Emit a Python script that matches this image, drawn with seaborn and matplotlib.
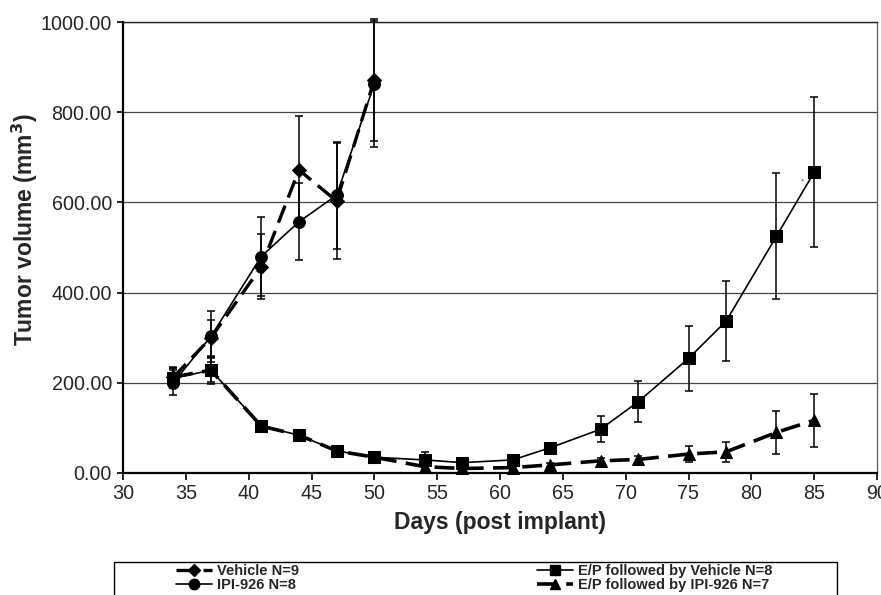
import matplotlib
matplotlib.use("Agg")
import matplotlib.pyplot as plt
from matplotlib.lines import Line2D
from matplotlib.patches import Rectangle
import seaborn as sns
import pandas as pd

# ---- data ----
days_short = [34, 37, 41, 44, 47, 50]
days_long = [34, 37, 41, 44, 47, 50, 54, 57, 61, 64, 68, 71, 75, 78, 82, 85]

vehicle_mean = [212, 300, 457, 672, 603, 872]
vehicle_err = [22, 40, 72, 120, 128, 135]
ipi_mean = [200, 303, 480, 557, 616, 863]
ipi_err = [28, 56, 88, 85, 119, 140]
epv_mean = [210, 228, 104, 84, 49, 35, 29, 23, 29, 56, 97, 158, 254, 337, 525, 667]
epv_err = [22, 26, 10, 8, 6, 6, 17, 6, 6, 10, 29, 45, 72, 89, 140, 166]
epi_mean = [213, 228, 104, 84, 49, 35, 14, 10, 12, 18, 27, 30, 42, 47, 90, 117]
epi_err = [20, 30, 10, 8, 6, 6, 6, 5, 5, 5, 6, 8, 18, 22, 47, 59]

labels = ["Vehicle N=9", "IPI-926 N=8", "E/P followed by Vehicle N=8", "E/P followed by IPI-926 N=7"]
x_ticks = [30, 35, 40, 45, 50, 55, 60, 65, 70, 75, 80, 85, 90]
y_ticks = [0, 200, 400, 600, 800, 1000]

sns.set_style("white")
plt.rcParams["font.family"] = ["Liberation Sans", "DejaVu Sans"]

fig = plt.figure(figsize=(8.81, 5.95), dpi=100)
ax = fig.add_axes([123 / 881, 1 - 473 / 595, 754 / 881, 451 / 595])

series = [
    (days_short, vehicle_mean, vehicle_err, "D", (0, (5.5, 2.6)), 2.4, 7.5),
    (days_short, ipi_mean, ipi_err, "o", "-", 1.2, 8.5),
    (days_long, epv_mean, epv_err, "s", "-", 1.2, 8.5),
    (days_long, epi_mean, epi_err, "^", (0, (5.5, 2.6)), 2.6, 8.5),
]

handles = []
for (xs, ms, es, mk, ls, lw, msz), lab in zip(series, labels):
    ax.errorbar(xs, ms, yerr=es, fmt="none", ecolor="black", elinewidth=1.1,
                capsize=3.2, capthick=1.1, clip_on=False, zorder=2)
    df = pd.DataFrame({"day": xs, "vol": ms})
    sns.lineplot(data=df, x="day", y="vol", ax=ax, color="black", marker=mk,
                 markersize=msz, markeredgecolor="black", linestyle=ls, lw=lw,
                 legend=False, sort=False, zorder=3, clip_on=False)
    handles.append(Line2D([], [], color="black", marker=mk, markersize=msz - 1,
                          linestyle=ls, lw=lw))

ax.text(84.1, 645, "*", fontsize=6, color="#555555", ha="center", va="center")

ax.set_xlim(30, 90)
ax.set_ylim(0, 1000)
ax.set_xticks(x_ticks)
ax.set_yticks(y_ticks)
ax.set_yticklabels([f"{v:.2f}" for v in y_ticks])
ax.tick_params(axis="both", which="major", labelsize=14.2, direction="out",
               length=5, width=1.2, color="black", bottom=True, left=True)
ax.tick_params(axis="x", pad=3)
ax.tick_params(axis="y", pad=4, length=4)

ax.yaxis.grid(True, color="#444444", lw=0.9)
ax.xaxis.grid(False)
ax.set_axisbelow(True)
for side in ["left", "bottom"]:
    ax.spines[side].set_color("black")
    ax.spines[side].set_linewidth(1.6)
ax.spines["top"].set_color("#222222")
ax.spines["top"].set_linewidth(1.0)
ax.spines["right"].set_color("#666666")
ax.spines["right"].set_linewidth(1.0)

ax.set_xlabel("Days (post implant)", fontsize=16.5, fontweight="bold", labelpad=6)
ax.set_ylabel("Tumor volume (mm$^\\mathbf{3}$)", fontsize=16.5, fontweight="bold")
ax.yaxis.set_label_coords(-0.110, 0.54)

# legend box (cut off by figure bottom)
fig.add_artist(Rectangle((114 / 881, -0.1), (837 - 114) / 881, (1 - 562 / 595) + 0.1,
                         transform=fig.transFigure, fill=False, lw=1.0,
                         edgecolor="black", clip_on=False))

leg_kw = dict(frameon=False, loc="upper left", borderpad=0, borderaxespad=0,
              handlelength=2.5, handletextpad=0.3, labelspacing=0.0,
              prop={"weight": "bold", "size": 10.5})
leg1 = fig.legend(handles[:2], labels[:2], bbox_to_anchor=(176 / 881, 1 - 564 / 595), **leg_kw)
leg2 = fig.legend(handles[2:], labels[2:], bbox_to_anchor=(537 / 881, 1 - 564 / 595), **leg_kw)

fig.savefig("out.png", dpi=100)
